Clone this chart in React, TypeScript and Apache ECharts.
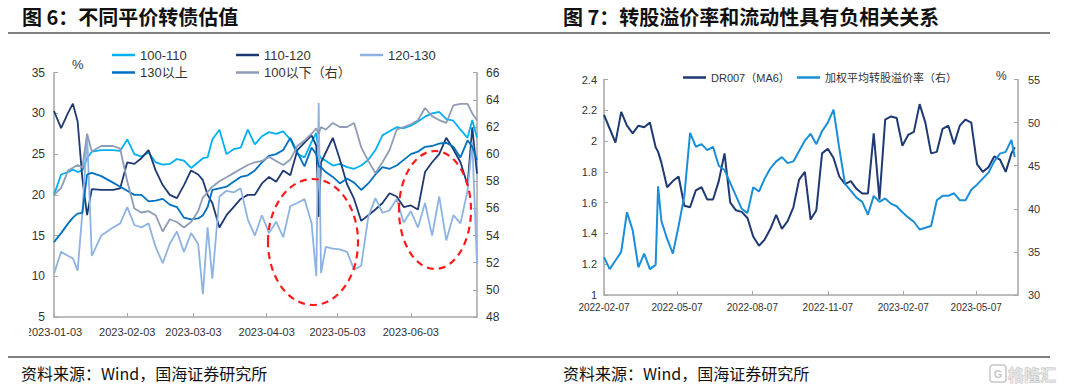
import React, { useEffect, useRef } from 'react';
import * as echarts from 'echarts';

// ---------- Figure 6 data ----------
const dates6 = [
  '2023-01-03','2023-01-06','2023-01-09','2023-01-11','2023-01-13','2023-01-15','2023-01-17','2023-01-19','2023-01-23','2023-01-28','2023-01-31',
  '2023-02-03','2023-02-06','2023-02-09','2023-02-12','2023-02-15','2023-02-18','2023-02-21','2023-02-24','2023-02-27',
  '2023-03-02','2023-03-05','2023-03-07','2023-03-09','2023-03-11','2023-03-14','2023-03-17','2023-03-20','2023-03-23','2023-03-26','2023-03-29',
  '2023-04-01','2023-04-04','2023-04-07','2023-04-10','2023-04-13','2023-04-16','2023-04-19','2023-04-22','2023-04-24','2023-04-25','2023-04-26','2023-04-28',
  '2023-05-01','2023-05-04','2023-05-07','2023-05-10','2023-05-13','2023-05-16','2023-05-19','2023-05-22','2023-05-25','2023-05-28','2023-05-31',
  '2023-06-03','2023-06-06','2023-06-09','2023-06-12','2023-06-15','2023-06-18','2023-06-21','2023-06-24','2023-06-27','2023-06-29','2023-07-01'
];
const s100to110 = [20,22.5,22.8,23.1,22.8,23,24.5,25.3,25.5,25.5,25.4,26.8,25,24.7,25.2,24,23.7,23.8,24.4,24.2,23.3,24,24.5,24.6,26.8,28,25,25.6,25.8,28,26.2,27.2,27.7,27.5,27.8,26.8,25,24.6,26.5,27.6,25,24.5,24.2,23.6,23.8,23.4,23.2,23.6,24.3,25.5,27.3,27.8,28.3,28.2,28.5,29,29.6,30,30.2,29.3,29.1,28,27,29.2,27];
const s110to120 = [30.3,28.2,30.1,31.2,29,22,17.5,20.7,20.6,20.6,20.8,24,23.8,24.5,25.5,23,21.2,20,19.6,21.2,23,22.5,21.8,20,19,16,17.5,18.5,19.5,20,20,21.4,22.2,21.6,23,22.4,25.5,26.4,27.3,26,17.3,24,25.2,27,24.3,21.3,19.5,16.8,17.5,18.2,19,20.2,19.8,18.5,18.7,18.2,22.8,24,25,27,25.6,24,21.2,28.3,22.6];
const s120to130 = [10.3,13,12.5,12.2,10.7,17.8,27.5,12.5,15,16,16.5,18.5,16.3,16,16.5,13.6,11.6,14,15.5,13,15.3,14,7.8,16,9.7,19.8,20.5,20.3,20.8,17,15,17.5,15.3,16.7,14.8,18.6,19,19.5,16.5,10,31.3,10.4,13.6,13.4,13.3,13,10.8,11.3,17.3,19.6,17.8,18.1,19.5,16.6,18,16,19,15,19.8,14.4,17.5,16.5,20.5,26.5,11.5];
const s130up = [14.2,15.3,16.5,17.2,17.7,17.8,22.5,22.7,22.3,21.5,21,20.5,20,20,19.2,19.3,19.5,18.8,18.5,17.2,17,17.1,17.5,18.5,20.6,20.8,21,21.6,22.2,22.4,23,24,24.8,25,25.5,27,25.2,23.5,25.8,25,23.5,23.4,22.8,22.2,21.4,22,21.5,20.6,21.4,22.5,23.4,23.2,23.6,24.3,25,25.3,25.9,26,26.3,26.4,25.9,24.6,26.7,25.9,24.3];
const s100below = [57,57.5,58.8,59,59.2,59,61.5,60.2,60.6,60.6,60.4,58,56,55.7,55.8,55.5,54.3,55.2,55,54.6,55,55.8,56.8,57.2,57.6,58,58.3,58.6,58.9,59.2,59.4,59.5,59.8,59.5,59.2,59.6,60.6,61,61.5,61.9,61.5,62,61.8,62.3,62,62,62.3,60.5,59.5,58.6,59.4,60.3,61.8,62,62.2,62.5,63.4,62.8,62.5,62.3,63.6,63.7,63.7,63,62.5];
const names6 = ['100-110', '110-120', '120-130', '130以上', '100以下（右）'];
const ticks6 = ['2023-01-03','2023-02-03','2023-03-03','2023-04-03','2023-05-03','2023-06-03'];

// ---------- Figure 7 data ----------
const dates7 = [
  '2022-02-07','2022-02-14','2022-02-21','2022-02-28','2022-03-07','2022-03-14','2022-03-21','2022-03-28',
  '2022-04-04','2022-04-11','2022-04-14','2022-04-18','2022-04-25','2022-05-02','2022-05-09','2022-05-16','2022-05-23','2022-05-30',
  '2022-06-06','2022-06-13','2022-06-20','2022-06-27','2022-07-04','2022-07-11','2022-07-18','2022-07-25',
  '2022-08-01','2022-08-08','2022-08-15','2022-08-22','2022-08-29','2022-09-05','2022-09-12','2022-09-19','2022-09-26',
  '2022-10-03','2022-10-10','2022-10-17','2022-10-24','2022-10-31','2022-11-07','2022-11-14','2022-11-21','2022-11-28',
  '2022-12-05','2022-12-12','2022-12-19','2022-12-26',
  '2023-01-02','2023-01-09','2023-01-16','2023-01-23','2023-01-30','2023-02-06','2023-02-13','2023-02-20','2023-02-27',
  '2023-03-06','2023-03-13','2023-03-20','2023-03-27','2023-04-03','2023-04-10','2023-04-17','2023-04-24',
  '2023-05-01','2023-05-08','2023-05-15','2023-05-22','2023-05-29','2023-06-05','2023-06-12','2023-06-19','2023-06-23'
];
const dr007 = [2.17,2.08,1.99,2.19,2.1,2.05,2.1,2.09,2.12,1.96,1.93,1.86,1.7,1.74,1.77,1.58,1.57,1.68,1.7,1.62,1.62,1.74,1.92,1.6,1.55,1.54,1.5,1.38,1.32,1.36,1.43,1.52,1.43,1.48,1.57,1.75,1.8,1.49,1.55,1.92,1.95,1.89,1.77,1.72,1.74,1.69,1.66,1.66,2.05,1.62,2.14,2.16,2.15,1.97,2.04,2.06,2.24,2.12,1.92,1.93,2.08,2.1,1.98,2.1,2.14,2.12,1.85,1.8,1.83,1.9,1.88,1.8,1.92,1.96];
const premium = [34.4,33,34,35,39.6,37.5,33.2,34.8,33,33.5,42.6,38.6,36.5,34.8,38,41.5,48.8,47.2,47.5,46.8,47.2,45,44.5,43,41.5,40,39.5,42.5,42,43.5,44.7,45.5,46,45.3,45.5,46.7,47.9,48.7,47.5,49,50,51.5,47,42.9,42.1,41.3,40.8,39.3,41.5,40.8,41.2,40.6,40.3,39.6,39,38.5,37.6,37.8,38,41,41.5,41.5,41.8,41,41,42.2,42.8,43.5,44.2,45.5,46.4,46.6,48,46];
const names7 = ['DR007（MA6）', '加权平均转股溢价率（右）'];
const ticks7 = ['2022-02-07','2022-05-07','2022-08-07','2022-11-07','2023-02-07','2023-05-07'];

const LATIN = "'Liberation Sans', Arial, 'Noto Sans CJK SC', sans-serif";
const CJK = "'Noto Sans CJK SC', 'Liberation Sans', sans-serif";

function ts(s: string): number {
  const [y, m, d] = s.split('-').map(Number);
  return new Date(y, m - 1, d).getTime();
}
function pad(n: number) { return n < 10 ? '0' + n : '' + n; }
function fmt(v: number): string {
  const d = new Date(v);
  return d.getFullYear() + '-' + pad(d.getMonth() + 1) + '-' + pad(d.getDate());
}

export default function App() {
  const ref = useRef<HTMLDivElement>(null);
  useEffect(() => {
    const chart = echarts.init(ref.current!, null, { renderer: 'svg' });
    const axisGray = '#A6A6A6';
    const labelColor = '#333';
    const t6 = ticks6.map(ts);
    const t7 = ticks7.map(ts);

    const xAxisBase = (grid: number, min: number, max: number, ticks: number[], fs: number, margin: number) => ({
      type: 'value', gridIndex: grid, min, max, scale: true,
      axisLine: { show: true, lineStyle: { color: axisGray, width: 1.5 } },
      axisTick: { show: true, inside: true, length: 4, customValues: ticks, lineStyle: { color: axisGray } },
      axisLabel: { customValues: ticks, formatter: (v: number) => fmt(v), fontSize: fs, color: labelColor, margin, fontFamily: LATIN, hideOverlap: false, showMinLabel: true, showMaxLabel: true },
      splitLine: { show: false },
    });
    const yAxisBase = (grid: number, min: number, max: number, interval: number, pos: string, fs: number, margin: number) => ({
      type: 'value', gridIndex: grid, min, max, interval, position: pos,
      axisLine: { show: true, lineStyle: { color: axisGray, width: 1.5 } },
      axisTick: { show: true, inside: true, length: 4, lineStyle: { color: axisGray } },
      axisLabel: { fontSize: fs, color: labelColor, margin, fontFamily: LATIN },
      splitLine: { show: false },
    });
    const lineSeries = (name: string, dates: string[], vals: number[], color: string, xi: number, yi: number, w: number) => ({
      type: 'line', name, xAxisIndex: xi, yAxisIndex: yi, showSymbol: false, symbol: 'none',
      data: dates.map((d, i) => [ts(d), vals[i]]),
      lineStyle: { color, width: w }, itemStyle: { color }, connectNulls: true,
    });
    const legendItem = (name: string, left: number, top: number, fs: number) => ({
      data: [name], left, top, orient: 'horizontal', icon: 'rect', itemWidth: 23, itemHeight: 2.5,
      padding: 0, selectedMode: false,
      textStyle: { fontSize: fs, color: labelColor, fontFamily: LATIN },
    });

    const c6 = ['#00B0F0', '#1F3A72', '#8DB3E2', '#0070C0', '#8E9CB6'];
    const c7 = ['#1F3A72', '#1A8FD8'];

    const option: any = {
      animation: false,
      backgroundColor: '#ffffff',
      grid: [
        { left: 54, right: 1080 - 477, top: 72.7, bottom: 391 - 317, containLabel: false, outerBoundsMode: 'none' },
        { left: 604, right: 1080 - 1018, top: 79.5, bottom: 391 - 295, containLabel: false, outerBoundsMode: 'none' },
      ],
      xAxis: [
        xAxisBase(0, ts('2023-01-03'), ts('2023-07-01'), t6, 11, 9),
        xAxisBase(1, ts('2022-02-07'), ts('2023-06-27'), t7, 10, 7),
      ],
      yAxis: [
        yAxisBase(0, 5, 35, 5, 'left', 12, 9),
        yAxisBase(0, 48, 66, 2, 'right', 12, 9),
        yAxisBase(1, 1, 2.4, 0.2, 'left', 11, 7),
        yAxisBase(1, 30, 55, 5, 'right', 11, 10),
      ],
      legend: [
        legendItem(names6[0], 112, 48.5, 13),
        legendItem(names6[1], 236, 48.5, 13),
        legendItem(names6[2], 360, 48.5, 13),
        legendItem(names6[3], 112, 66, 13),
        legendItem(names6[4], 236, 66, 13),
        legendItem(names7[0], 683, 72, 11),
        legendItem(names7[1], 797, 72, 11),
      ],
      series: [
        lineSeries(names6[0], dates6, s100to110, c6[0], 0, 0, 1.8),
        lineSeries(names6[1], dates6, s110to120, c6[1], 0, 0, 1.8),
        lineSeries(names6[2], dates6, s120to130, c6[2], 0, 0, 1.8),
        lineSeries(names6[3], dates6, s130up, c6[3], 0, 0, 1.8),
        lineSeries(names6[4], dates6, s100below, c6[4], 0, 1, 1.8),
        lineSeries(names7[0], dates7, dr007, c7[0], 1, 2, 2),
        lineSeries(names7[1], dates7, premium, c7[1], 1, 3, 2),
      ],
      graphic: [
        { type: 'text', x: 22, y: 16, style: { text: '图 6：不同平价转债估值', font: 'bold 20px ' + CJK, fill: '#111', verticalAlign: 'middle' } },
        { type: 'text', x: 563, y: 16, style: { text: '图 7：转股溢价率和流动性具有负相关关系', font: 'bold 20px ' + CJK, fill: '#111', verticalAlign: 'middle' } },
        { type: 'line', shape: { x1: 8, y1: 33, x2: 1050, y2: 33 }, style: { stroke: '#808080', lineWidth: 2 } },
        { type: 'line', shape: { x1: 8, y1: 357, x2: 1050, y2: 357 }, style: { stroke: '#808080', lineWidth: 2 } },
        { type: 'text', x: 72, y: 64, style: { text: '%', font: '13px ' + LATIN, fill: labelColor, verticalAlign: 'middle' } },
        { type: 'text', x: 996, y: 76, style: { text: '%', font: '12px ' + LATIN, fill: labelColor, verticalAlign: 'middle' } },
        { type: 'ellipse', z: 100, shape: { cx: 313, cy: 242, rx: 45, ry: 63 }, style: { fill: 'none', stroke: '#FF1A1A', lineWidth: 2.2, lineDash: [7, 5] } },
        { type: 'ellipse', z: 100, shape: { cx: 435, cy: 210, rx: 36, ry: 59 }, style: { fill: 'none', stroke: '#FF1A1A', lineWidth: 2.2, lineDash: [7, 5] } },
        { type: 'rect', z: 100, shape: { x: 0, y: 322, width: 29, height: 20 }, style: { fill: '#ffffff' } },
        { type: 'text', x: 21, y: 373, style: { text: '资料来源：Wind，国海证券研究所', font: '16px ' + CJK, fill: '#111', verticalAlign: 'middle' } },
        { type: 'text', x: 563, y: 373, style: { text: '资料来源：Wind，国海证券研究所', font: '16px ' + CJK, fill: '#111', verticalAlign: 'middle' } },
        { type: 'rect', shape: { x: 990, y: 365, width: 16, height: 17, r: 3 }, style: { fill: 'none', stroke: '#C8C8C8', lineWidth: 1.5 } },
        { type: 'text', x: 998, y: 374, style: { text: 'G', font: 'bold 11px ' + LATIN, fill: '#C8C8C8', align: 'center', verticalAlign: 'middle' } },
        { type: 'text', x: 1008, y: 374, style: { text: '格隆汇', font: 'bold 16px ' + CJK, fill: '#E4E4E4', stroke: '#BDBDBD', lineWidth: 0.8, verticalAlign: 'middle' } },
      ],
    };
    chart.setOption(option);
    return () => chart.dispose();
  }, []);
  return <div ref={ref} style={{ position: 'absolute', left: 0, top: 0, width: 1080, height: 391, background: '#fff' }} />;
}
